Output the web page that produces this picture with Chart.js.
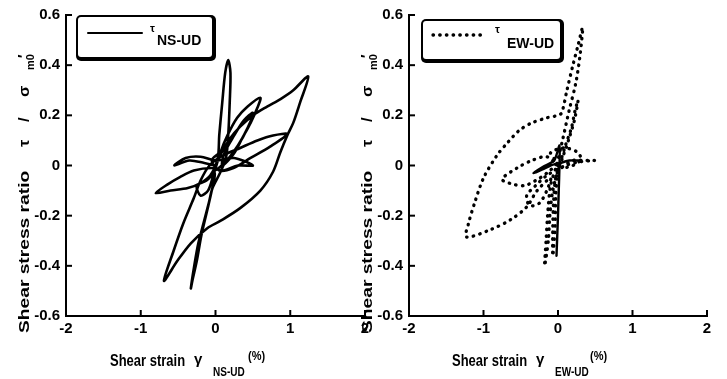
<!DOCTYPE html>
<html><head><meta charset="utf-8">
<script src="https://cdn.jsdelivr.net/npm/chart.js@4.4.0/dist/chart.umd.min.js"></script>
<style>
html,body{margin:0;padding:0;background:#fff;}
#wrap{position:relative;width:727px;height:379px;background:#fff;}
canvas{position:absolute;left:0;top:0;}
</style></head><body>
<div id="wrap"><canvas id="c1" width="727" height="379"></canvas><canvas id="c2" width="727" height="379"></canvas></div>
<script>
// ---- data ----
const xTicks = [-2, -1, 0, 1, 2];
const yTicks = [-0.6, -0.4, -0.2, 0, 0.2, 0.4, 0.6];

const nsStrain = [0.00,-0.15,-0.35,-0.55,-0.40,-0.20,0.00,0.25,0.50,0.30,0.10,-0.05,
  -0.29,-0.47,-0.64,-0.80,-0.60,-0.37,-0.20,-0.07,
  0.03,0.05,0.09,0.13,0.17,0.20,0.19,0.17,0.14,0.06,-0.04,-0.09,-0.16,-0.23,-0.29,-0.33,
  -0.31,-0.25,-0.19,-0.12,-0.05,-0.01,
  -0.12,-0.25,-0.20,-0.10,-0.03,
  0.07,0.16,0.29,0.43,0.60,0.56,0.47,0.36,0.24,0.09,
  0.12,0.25,0.38,0.50,0.43,0.30,0.12,-0.02,
  0.07,0.20,0.33,0.50,0.69,0.87,1.04,1.24,
  1.13,1.04,0.96,0.87,0.77,0.60,0.33,0.07,-0.11,-0.33,-0.51,-0.69,
  -0.56,-0.43,-0.29,-0.20,-0.08,
  0.10,0.33,0.56,0.77,0.96,0.73,0.47,0.24,0.05,-0.05,0.05];
const nsStress = [0.00,0.01,0.02,0.00,0.03,0.035,0.02,0.03,0.00,0.00,-0.02,-0.01,
  -0.02,-0.045,-0.075,-0.11,-0.10,-0.09,-0.07,-0.04,
  0.03,0.12,0.25,0.37,0.42,0.37,0.25,0.12,0.03,-0.03,-0.09,-0.15,-0.23,-0.31,-0.41,-0.49,
  -0.46,-0.38,-0.28,-0.19,-0.10,-0.03,
  -0.06,-0.08,-0.12,-0.10,-0.04,
  0.055,0.12,0.19,0.235,0.27,0.23,0.17,0.11,0.045,0.00,
  0.05,0.12,0.18,0.21,0.15,0.08,0.01,-0.02,
  0.045,0.11,0.155,0.20,0.235,0.265,0.30,0.355,
  0.25,0.17,0.12,0.055,-0.025,-0.10,-0.17,-0.22,-0.25,-0.31,-0.38,-0.46,
  -0.34,-0.23,-0.13,-0.06,0.00,
  0.04,0.07,0.10,0.12,0.125,0.075,0.03,-0.01,-0.02,0.02,0.05];

const ewStrain = [0.00,-0.15,-0.35,-0.55,-0.75,-0.60,-0.45,-0.30,-0.15,-0.02,
  -0.10,0.08,0.25,0.31,0.20,0.05,0.20,0.35,0.49,0.30,0.10,
  -0.15,-0.30,-0.42,-0.38,-0.25,-0.15,-0.10,
  -0.28,-0.42,-0.63,-0.90,-1.23,
  -1.20,-1.12,-1.00,-0.82,-0.68,-0.52,-0.35,-0.15,0.00,0.05,
  0.12,0.20,0.27,0.33,0.30,0.24,0.15,0.06,-0.02,-0.10,-0.14,-0.16,-0.18,
  -0.13,-0.11,-0.07,0.02,0.10,0.18,0.23,0.27,
  0.22,0.14,0.06,-0.03,-0.06,-0.07,-0.07,-0.04,-0.03,0.00];
const ewStress = [0.00,0.035,0.02,-0.01,-0.055,-0.075,-0.08,-0.06,-0.03,0.01,
  0.05,0.07,0.055,0.025,0.00,-0.01,0.02,0.02,0.02,0.015,0.00,
  -0.04,-0.08,-0.12,-0.16,-0.15,-0.10,-0.05,
  -0.10,-0.165,-0.215,-0.255,-0.285,
  -0.23,-0.15,-0.05,0.04,0.09,0.14,0.17,0.19,0.20,0.21,
  0.30,0.40,0.48,0.55,0.45,0.33,0.22,0.10,0.00,-0.08,-0.20,-0.30,-0.40,
  -0.30,-0.20,-0.10,0.00,0.08,0.15,0.22,0.26,
  0.18,0.10,0.03,-0.05,-0.15,-0.25,-0.36,-0.25,-0.12,0.00];

// densely sampled part of EW record that prints as a solid stroke
const ewDenseStrain = [0.30,0.15,0.03,-0.10,-0.20,-0.33,-0.20,-0.05,0.02,0.02,0.01,0.00,-0.01,-0.02];
const ewDenseStress = [0.02,0.02,0.01,0.00,-0.015,-0.03,-0.005,0.02,0.08,0.00,-0.10,-0.20,-0.28,-0.36];

// ---- helpers ----
const FONT = '"Liberation Sans", Arial, sans-serif';
const pts = (xs, ys) => xs.map((x, i) => ({x: x, y: ys[i]}));

const inTicks = {
  id: 'inTicks',
  afterDatasetsDraw(chart) {
    const {ctx, chartArea: a, scales: {x, y}} = chart;
    ctx.save();
    ctx.strokeStyle = '#000'; ctx.lineWidth = 2;
    x.ticks.forEach(t => { const p = x.getPixelForValue(t.value); ctx.beginPath(); ctx.moveTo(p, a.bottom); ctx.lineTo(p, a.bottom - 6); ctx.stroke(); });
    y.ticks.forEach(t => { const p = y.getPixelForValue(t.value); ctx.beginPath(); ctx.moveTo(a.left, p); ctx.lineTo(a.left + 6, p); ctx.stroke(); });
    ctx.restore();
  }
};

const boxLegend = {
  id: 'boxLegend',
  afterDraw(chart, args, o) {
    const ctx = chart.ctx;
    ctx.save();
    ctx.fillStyle = '#000';
    ctx.beginPath(); ctx.roundRect(o.x, o.y, o.w, o.h, 5); ctx.fill();
    ctx.fillStyle = '#fff';
    ctx.beginPath(); ctx.roundRect(o.x + 2, o.y + 2, o.w - 6, o.h - 6, 3); ctx.fill();
    const ds = chart.data.datasets[0];
    ctx.strokeStyle = '#000';
    ctx.lineWidth = o.lw;
    ctx.setLineDash(ds.borderDash || []);
    ctx.lineCap = ds.borderCapStyle || 'butt';
    ctx.beginPath(); ctx.moveTo(o.lx1, o.ly); ctx.lineTo(o.lx2, o.ly); ctx.stroke();
    ctx.setLineDash([]);
    ctx.fillStyle = '#000';
    ctx.textBaseline = 'alphabetic';
    ctx.font = 'bold 11px ' + FONT; ctx.fillText('τ', o.tx, o.ty);
    ctx.font = 'bold 14px ' + FONT; ctx.fillText(o.sub, o.sx, o.sy);
    ctx.restore();
  }
};

const axisTitles = {
  id: 'axisTitles',
  afterDraw(chart, args, o) {
    const ctx = chart.ctx;
    ctx.save();
    ctx.fillStyle = '#000';
    ctx.textBaseline = 'alphabetic';
    // x title (horizontal, slightly tall letters)
    o.xRuns.forEach(r => {
      ctx.save();
      ctx.translate(r.x, r.y);
      ctx.scale(1, r.sy || 1);
      ctx.font = r.font; ctx.fillText(r.t, 0, 0);
      ctx.restore();
    });
    // y title (rotated)
    o.yRuns.forEach(r => {
      ctx.save();
      ctx.translate(r.x, r.y);
      ctx.rotate(-Math.PI / 2);
      ctx.scale(r.sx || 1, 1);
      ctx.font = r.font; ctx.fillText(r.t, 0, 0);
      ctx.restore();
    });
    ctx.restore();
  }
};

function makeChart(id, datasets, pad, yWidth, legendOpts, titleOpts) {
  return new Chart(document.getElementById(id), {
    type: 'scatter',
    data: {datasets: datasets},
    options: {
      responsive: false,
      animation: false,
      devicePixelRatio: 1,
      layout: {padding: pad},
      plugins: {legend: {display: false}, tooltip: {enabled: false}, boxLegend: legendOpts, axisTitles: titleOpts},
      elements: {point: {radius: 0}},
      scales: {
        x: {
          type: 'linear', min: -2, max: 2,
          afterBuildTicks: s => { s.ticks = xTicks.map(v => ({value: v})); },
          afterFit: s => { s.height = 63; },
          ticks: {color: '#000', padding: 4, font: {family: FONT, size: 15, weight: 'bold'}, callback: v => String(v)},
          grid: {display: true, drawOnChartArea: false, drawTicks: false},
          border: {display: true, color: '#000', width: 2}
        },
        y: {
          type: 'linear', min: -0.6, max: 0.6,
          afterBuildTicks: s => { s.ticks = yTicks.map(v => ({value: v})); },
          afterFit: s => { s.width = yWidth; },
          ticks: {color: '#000', padding: 6, font: {family: FONT, size: 15, weight: 'bold'}, callback: v => (Math.abs(v) < 1e-9 ? '0' : v.toFixed(1))},
          grid: {display: true, drawOnChartArea: false, drawTicks: false},
          border: {display: true, color: '#000', width: 2}
        }
      }
    },
    plugins: [inTicks, boxLegend, axisTitles]
  });
}

function yTitle(bx, startY) {
  const f = 'bold 15px ' + FONT;
  return [
    {t: 'Shear stress ratio', x: bx, y: startY, font: f, sx: 1.28},
    {t: 'τ', x: bx, y: startY - 186, font: f, sx: 1.1},
    {t: '/', x: bx, y: startY - 211, font: f, sx: 1.1},
    {t: 'σ', x: bx, y: startY - 236, font: f, sx: 1.1},
    {t: 'm0', x: bx + 5, y: startY - 263, font: 'bold 10px ' + FONT, sx: 1.1},
    {t: '\u2032', x: bx - 1, y: startY - 275, font: f, sx: 1}
  ];
}
function xTitle(x0, sub) {
  const f = 'bold 13px ' + FONT;
  return [
    {t: 'Shear strain', x: x0, y: 366, font: f, sy: 1.3},
    {t: 'γ', x: x0 + 84, y: 364, font: 'bold 15px ' + FONT, sy: 1},
    {t: sub, x: x0 + 103, y: 376, font: 'bold 10px ' + FONT, sy: 1.2},
    {t: '(%)', x: x0 + 138, y: 360, font: 'bold 11px ' + FONT, sy: 1.2}
  ];
}

makeChart('c1', [
  {label: 'τ NS-UD', data: pts(nsStrain, nsStress), showLine: true, borderColor: '#000', borderWidth: 2.6,
   tension: 0.3, borderCapStyle: 'round', borderJoinStyle: 'round', fill: false}
], {left: 0, right: 362, top: 13, bottom: 0}, 66,
  {x: 76, y: 15, w: 140, h: 46, lw: 2, lx1: 88, lx2: 142, ly: 33, tx: 150, ty: 32, sub: 'NS-UD', sx: 157, sy: 45},
  {xRuns: xTitle(110, 'NS-UD'), yRuns: yTitle(29, 333)});

makeChart('c2', [
  {label: 'τ EW-UD', data: pts(ewStrain, ewStress), showLine: true, borderColor: '#000', borderWidth: 3.3,
   borderDash: [0.5, 6.2], borderCapStyle: 'round', tension: 0.3, fill: false},
  {label: 'dense', data: pts(ewDenseStrain, ewDenseStress), showLine: true, borderColor: '#000', borderWidth: 2.4,
   borderCapStyle: 'round', borderJoinStyle: 'round', tension: 0.2, fill: false}
], {left: 364, right: 20, top: 15, bottom: 0}, 45,
  {x: 421, y: 19, w: 143, h: 44, lw: 3.3, lx1: 433, lx2: 482, ly: 35, tx: 495, ty: 33, sub: 'EW-UD', sx: 507, sy: 48},
  {xRuns: xTitle(452, 'EW-UD'), yRuns: yTitle(372, 333)});
</script>
</body></html>
